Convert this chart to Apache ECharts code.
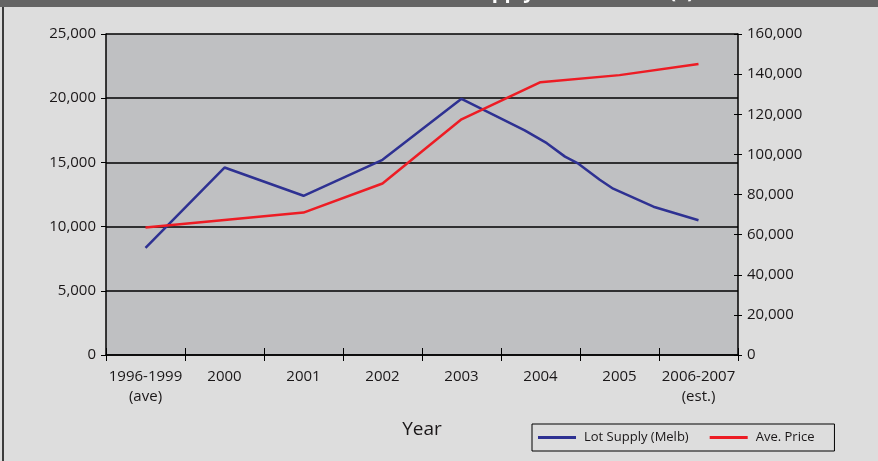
<!DOCTYPE html>
<html>
<head>
<meta charset="utf-8">
<script src="https://cdn.jsdelivr.net/npm/echarts@6/dist/echarts.min.js"></script>
<style>
html,body{margin:0;padding:0;background:#dddddd;}
#chart{width:878px;height:461px;}
</style>
</head>
<body>
<div id="chart"></div>
<script>
// ---- data ----
var categories = ['1996-1999\n(ave)', '2000', '2001', '2002', '2003', '2004', '2005', '2006-2007\n(est.)'];
// Lot Supply (Melb): positions along the year axis (0.5 = centre of first category) and values
var supplyX = [0.5, 1.5, 2.5, 3.5, 4.5, 5.3, 5.58, 5.81, 5.98, 6.25, 6.42, 6.93, 7.5];
var supplyValues = [8350, 14600, 12400, 15200, 19950, 17500, 16500, 15450, 14900, 13650, 12950, 11550, 10500];
// Ave. Price per category
var priceValues = [63500, 67300, 71000, 85500, 117500, 136000, 139500, 145000];
var leftTicks = {min: 0, max: 25000, interval: 5000};
var rightTicks = {min: 0, max: 160000, interval: 20000};

var supplyData = supplyX.map(function (x, i) { return [x, supplyValues[i]]; });

var FONT = '"Open Sans", "DejaVu Sans", sans-serif';
var TXT = '#1a1718';
var fmt = function (v) { return Number(v).toLocaleString('en-US'); };

var chart = echarts.init(document.getElementById('chart'), null, {renderer: 'canvas'});
chart.setOption({
  animation: false,
  backgroundColor: '#dddddd',
  textStyle: {fontFamily: FONT},
  grid: {left: 106, right: 140, top: 34, bottom: 106, show: true, backgroundColor: '#bfc0c2', borderWidth: 0},
  graphic: [
    {type: 'rect', shape: {x: 0, y: 0, width: 878, height: 7}, style: {fill: '#646464'}, z: 100},
    {type: 'rect', shape: {x: 2, y: 7, width: 2, height: 454}, style: {fill: '#3c3c3c'}, z: 100},
    {type: 'text', left: 430, top: -18, z: 101,
     style: {text: 'Lot Supply vs Ave. Price ($)', fill: '#ffffff', font: 'bold 20px ' + FONT}}
  ],
  legend: {
    left: 532, top: 424,
    padding: [7, 20, 7, 6],
    itemGap: 21, itemWidth: 38, itemHeight: 3,
    borderColor: '#000', borderWidth: 1, borderRadius: 0,
    backgroundColor: '#dddddd',
    icon: 'rect',
    textStyle: {fontFamily: FONT, fontSize: 13, color: TXT, padding: [0, 0, 0, 3]},
    data: ['Lot Supply (Melb)', 'Ave. Price']
  },
  xAxis: [
    {
      type: 'category', data: categories, boundaryGap: true,
      name: 'Year', nameLocation: 'middle', nameGap: 65,
      nameTextStyle: {fontSize: 19, color: TXT, fontFamily: FONT},
      axisLine: {show: true, lineStyle: {color: '#000', width: 1.5}},
      axisTick: {show: true, inside: false, length: 6, interval: 0, lineStyle: {color: '#000', width: 1}},
      axisLabel: {interval: 0, fontSize: 15, color: TXT, margin: 12, lineHeight: 20, fontFamily: FONT},
      splitLine: {show: false}
    },
    {
      type: 'value', min: 0, max: 8, interval: 1, position: 'bottom',
      axisLine: {show: false},
      axisTick: {show: true, inside: true, length: 7, lineStyle: {color: '#000', width: 1}},
      axisLabel: {show: false},
      splitLine: {show: false}
    }
  ],
  yAxis: [
    {
      type: 'value', position: 'left', min: leftTicks.min, max: leftTicks.max, interval: leftTicks.interval,
      axisLine: {show: true, lineStyle: {color: '#000', width: 1.5}},
      axisTick: {show: true, inside: false, length: 5, lineStyle: {color: '#000', width: 1}},
      axisLabel: {fontSize: 15, color: TXT, margin: 10, formatter: fmt, fontFamily: FONT},
      splitLine: {show: true, lineStyle: {color: '#000', width: 1.5}}
    },
    {
      type: 'value', position: 'right', min: rightTicks.min, max: rightTicks.max, interval: rightTicks.interval,
      axisLine: {show: true, lineStyle: {color: '#000', width: 1.5}},
      axisTick: {show: true, inside: false, length: 4, lineStyle: {color: '#000', width: 1}},
      axisLabel: {fontSize: 15, color: TXT, margin: 9, formatter: fmt, fontFamily: FONT},
      splitLine: {show: false}
    },
    {
      type: 'value', position: 'right', min: rightTicks.min, max: rightTicks.max, interval: rightTicks.interval,
      axisLine: {show: false},
      axisTick: {show: true, inside: true, length: 4, lineStyle: {color: '#000', width: 1}},
      axisLabel: {show: false},
      splitLine: {show: false}
    }
  ],
  series: [
    {
      name: 'Lot Supply (Melb)', type: 'line', xAxisIndex: 1, yAxisIndex: 0,
      data: supplyData, showSymbol: false, symbol: 'none',
      itemStyle: {color: '#2e3192'},
      lineStyle: {color: '#2e3192', width: 2.5}
    },
    {
      name: 'Ave. Price', type: 'line', xAxisIndex: 0, yAxisIndex: 1,
      data: priceValues, showSymbol: false, symbol: 'none',
      itemStyle: {color: '#ed1c24'},
      lineStyle: {color: '#ed1c24', width: 2.5}
    }
  ]
});
</script>
</body>
</html>
